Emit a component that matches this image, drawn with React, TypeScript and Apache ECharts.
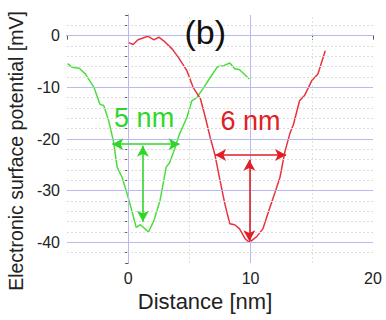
import React, { useEffect, useRef } from "react";
import * as echarts from "echarts";

const greenX = [-4.95, -4.6, -4.0, -3.5, -2.8, -2.3, -2.0, -1.6, -1.2, -0.9, -0.5, 0, 0.4, 0.65, 1.0, 1.66, 2.1, 2.6, 3.1, 3.4, 3.8, 4.2, 4.8, 5.2, 5.6, 6.1, 6.7, 7.3, 7.8, 8.3, 8.7, 9.1, 9.9];
const greenY = [-5.4, -6.1, -6.3, -7.4, -10, -13.3, -13.5, -16.4, -20.5, -25.5, -27.4, -31.3, -34.8, -37.1, -36.6, -38.0, -35.8, -31.9, -25.5, -24.5, -21.9, -19.0, -15.8, -12.6, -12.0, -10.3, -8.1, -6.0, -5.8, -5.3, -6.4, -6.6, -8.4];

const redX = [0, 0.4, 0.8, 1.6, 2.1, 2.5, 2.9, 3.6, 4.1, 4.8, 5.3, 5.9, 6.3, 6.7, 7.1, 7.5, 7.9, 8.3, 8.7, 9.1, 9.55, 9.9, 10.5, 11.0, 11.5, 12.0, 12.4, 12.8, 13.2, 13.5, 14.0, 14.4, 15.0, 15.5, 16.1];
const redY = [-1.3, -1.7, -0.8, -0.1, -0.8, -0.3, -1.0, -2.6, -4.2, -6.8, -10, -12.2, -15.8, -19.7, -23.2, -28, -32.6, -36.4, -36.6, -37.4, -39.3, -40, -38.9, -37.4, -33.8, -30.3, -27.4, -22.5, -19.0, -17.2, -12.6, -11.6, -8.7, -7.4, -2.9];

const xMajorGrid = [0, 10];
const xMinorGrid = [5, 15];
const yMajorGrid = [0, -10, -20, -30, -40];
const yMinorGrid = [2, -2, -4, -6, -8, -12, -14, -16, -18, -22, -24, -26, -28, -32, -34, -36, -38, -42];

// annotation arrows: [x1, y1, x2, y2]
const greenHArrow = [-1.3, -21, 4.2, -21];
const greenVArrow = [1.2, -21.3, 1.2, -36.0];
const redHArrow = [7.1, -23.1, 12.9, -23.1];
const redVArrow = [9.9, -24.0, 9.9, -39.8];

const greenLabel = { text: "5 nm", x: 1.3, y: -15.9 };
const redLabel = { text: "6 nm", x: 10.0, y: -16.6 };
const panelLabel = { text: "(b)", x: 6.3, y: 0.8 };

const FONT = "'Liberation Sans', Arial, sans-serif";
const GREEN = "#4ade3a";
const RED = "#e8333f";
const GREEN_A = "#2fd62a";
const RED_A = "#e01e26";

export default function App() {
  const ref = useRef<HTMLDivElement>(null);
  useEffect(() => {
    document.body.style.margin = "0";
    if (!ref.current) return;
    const chart = echarts.init(ref.current, null, { renderer: "svg" });
    const arrow = (a: number[], color: string) => [
      { coord: [a[0], a[1]], lineStyle: { color, width: 1.6, type: "solid" } },
      { coord: [a[2], a[3]] },
    ];
    const textPoint = (t: { text: string; x: number; y: number }, color: string, size: number) => ({
      coord: [t.x, t.y],
      symbol: "circle",
      symbolSize: 0,
      label: {
        show: true,
        position: "inside",
        formatter: t.text,
        color,
        fontSize: size,
        fontFamily: FONT,
      },
    });
    chart.setOption({
      animation: false,
      backgroundColor: "#ffffff",
      grid: { left: 67, top: 15, width: 306, height: 248, containLabel: false, outerBoundsMode: "none" },
      xAxis: {
        type: "value",
        min: -5,
        max: 20,
        interval: 5,
        name: "Distance [nm]",
        nameLocation: "middle",
        nameGap: 24,
        nameTextStyle: { fontSize: 22, color: "#222", fontFamily: FONT, padding: [0, 30, 0, 0] },
        axisLine: { show: true, lineStyle: { color: "#555", width: 1 } },
        axisTick: { show: true, length: 4, lineStyle: { color: "#555" } },
        axisLabel: {
          margin: 7,
          fontSize: 16,
          color: "#222",
          fontFamily: FONT,
          formatter: (v: number) => (v % 10 === 0 ? String(v) : ""),
        },
        splitLine: { show: false },
      },
      yAxis: {
        type: "value",
        min: -44,
        max: 4,
        interval: 2,
        name: "Electronic surface potential [mV]",
        nameLocation: "middle",
        nameGap: 31,
        nameTextStyle: { fontSize: 19.5, color: "#222", fontFamily: FONT, padding: [0, 24, 0, 0] },
        axisLine: { show: true, lineStyle: { color: "#555", width: 1 } },
        axisTick: { show: true, length: 3, lineStyle: { color: "#555" } },
        axisLabel: {
          margin: 7,
          fontSize: 16,
          color: "#222",
          fontFamily: FONT,
          formatter: (v: number) => (v % 10 === 0 ? String(v) : ""),
        },
        splitLine: { show: false },
      },
      series: [
        {
          type: "line",
          data: [],
          z: 1,
          silent: true,
          markLine: {
            silent: true,
            symbol: "none",
            label: { show: false },
            data: [
              ...yMinorGrid.map((v) => ({ yAxis: v, lineStyle: { color: "#dcdcdc", width: 1, type: [2, 2] } })),
              ...xMinorGrid.map((v) => ({ xAxis: v, lineStyle: { color: "#d6ead0", width: 1, type: [2, 2] } })),
              ...yMajorGrid.map((v) => ({ yAxis: v, lineStyle: { color: "#b9b9f2", width: 1, type: "solid" } })),
              ...xMajorGrid.map((v) => ({ xAxis: v, lineStyle: { color: "#b9b9f2", width: 1, type: "solid" } })),
            ],
          },
        },
        {
          type: "line",
          name: "green",
          z: 3,
          data: greenX.map((x, i) => [x, greenY[i]]),
          showSymbol: false,
          lineStyle: { color: GREEN, width: 1.5 },
          itemStyle: { color: GREEN },
          markLine: {
            silent: true,
            symbol: ["arrow", "arrow"],
            symbolSize: [9, 11],
            label: { show: false },
            data: [arrow(greenHArrow, GREEN_A), arrow(greenVArrow, GREEN_A)],
          },
          markPoint: {
            silent: true,
            data: [textPoint(greenLabel, GREEN_A, 27)],
          },
        },
        {
          type: "line",
          name: "red",
          z: 3,
          data: redX.map((x, i) => [x, redY[i]]),
          showSymbol: false,
          lineStyle: { color: RED, width: 1.5 },
          itemStyle: { color: RED },
          markLine: {
            silent: true,
            symbol: ["arrow", "arrow"],
            symbolSize: [9, 11],
            label: { show: false },
            data: [arrow(redHArrow, RED_A), arrow(redVArrow, RED_A)],
          },
          markPoint: {
            silent: true,
            data: [textPoint(redLabel, RED_A, 27), textPoint(panelLabel, "#111", 34)],
          },
        },
      ],
    });
    return () => chart.dispose();
  }, []);
  return <div ref={ref} style={{ width: 386, height: 320 }} />;
}
